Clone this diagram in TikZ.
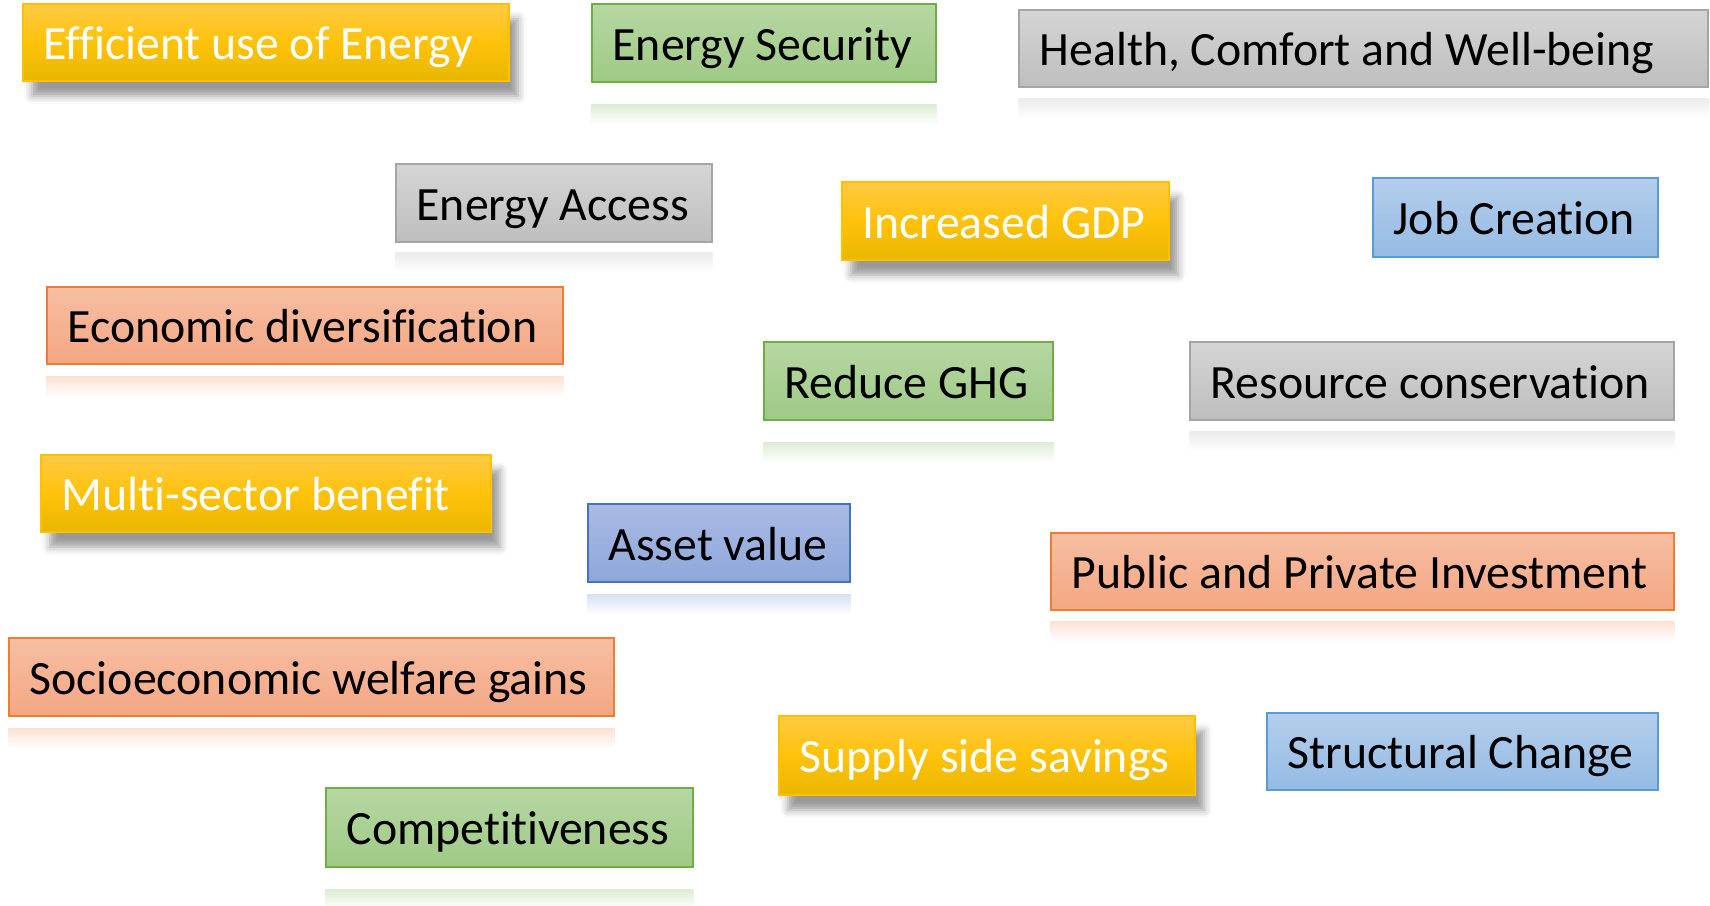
\documentclass[tikz,border=0pt]{standalone}
\usepackage{fontspec}
\setmainfont{Carlito}[Ligatures=NoCommon]
\usetikzlibrary{fit,shadows.blur}
\definecolor{yTop}{HTML}{FFCA45}
\definecolor{yMid}{HTML}{FFC20A}
\definecolor{yBot}{HTML}{E8B700}
\definecolor{yLine}{HTML}{FFC000}
\definecolor{gTop}{HTML}{B6D7A2}
\definecolor{gBot}{HTML}{9FCA86}
\definecolor{gLine}{HTML}{70AD47}
\definecolor{kTop}{HTML}{D5D5D5}
\definecolor{kBot}{HTML}{BEBEBE}
\definecolor{kLine}{HTML}{A5A5A5}
\definecolor{oTop}{HTML}{F7BEA2}
\definecolor{oBot}{HTML}{F4A784}
\definecolor{oLine}{HTML}{ED7D31}
\definecolor{lTop}{HTML}{B4CEEB}
\definecolor{lBot}{HTML}{95BBE4}
\definecolor{lLine}{HTML}{5B9BD5}
\definecolor{bTop}{HTML}{AABAE3}
\definecolor{bBot}{HTML}{8EA7DB}
\definecolor{bLine}{HTML}{4472C4}
\tikzset{
  base/.style={inner sep=0pt, line width=1.2pt},
  yel/.style={base, draw=yLine, top color=yTop, bottom color=yBot, middle color=yMid,
    blur shadow={shadow xshift=9pt, shadow yshift=-15pt, shadow blur radius=8pt, shadow opacity=40}},
  grn/.style={base, draw=gLine, top color=gTop, bottom color=gBot},
  gry/.style={base, draw=kLine, top color=kTop, bottom color=kBot},
  org/.style={base, draw=oLine, top color=oTop, bottom color=oBot},
  lbl/.style={base, draw=lLine, top color=lTop, bottom color=lBot},
  blu/.style={base, draw=bLine, top color=bTop, bottom color=bBot},
  txt/.style={inner sep=0pt, anchor=base west, font=\fontsize{47.8}{58}\selectfont},
  wtxt/.style={txt, text=white},
}
% name, style, x1, y1, x2, y2, text style, text
\newcommand\mkbox[8]{%
  \node[#2, fit={(#3,#4) (#5,#6)}] (#1) {};
  \node[#7] (#1t) at ([xshift=21pt, yshift=-17pt]#1.west) {#8};
}
% reflection: name, gap, colour
\newcommand\mkrefl[3]{%
  \path[top color=#3!45!white, bottom color=white, draw=none]
    ([yshift=-#2]#1.south west) rectangle ([yshift=-#2-20pt]#1.south east);
}
\begin{document}
\begin{tikzpicture}[x=1pt, y=-1pt]
\useasboundingbox (0,0) rectangle (1710,905);
\mkbox{eff}{yel}{23}{4}{509}{81}{wtxt}{Efficient use of Energy}
\mkbox{sec}{grn}{592}{4}{936}{82}{txt}{Energy Security}
\mkbox{hea}{gry}{1019}{10}{1708}{87}{txt}{Health, Comfort and Well-being}
\mkbox{acc}{gry}{396}{164}{712}{242}{txt}{Energy Access}
\mkbox{gdp}{yel}{842}{182}{1169}{260}{wtxt}{Increased GDP}
\mkbox{job}{lbl}{1373}{178}{1658}{257}{txt}{Job Creation}
\mkbox{eco}{org}{47}{287}{563}{364}{txt}{Economic diversification}
\mkbox{ghg}{grn}{764}{342}{1053}{420}{txt}{Reduce GHG}
\mkbox{res}{gry}{1190}{342}{1674}{420}{txt}{Resource conservation}
\mkbox{mul}{yel}{41}{455}{491}{532}{wtxt}{Multi-sector benefit}
\mkbox{ast}{blu}{588}{504}{850}{582}{txt}{Asset value}
\mkbox{pub}{org}{1051}{533}{1674}{610}{txt}{Public and Private Investment}
\mkbox{soc}{org}{9}{638}{614}{716}{txt}{Socioeconomic welfare gains}
\mkbox{sup}{yel}{779}{716}{1195}{795}{wtxt}{Supply side savings}
\mkbox{str}{lbl}{1267}{713}{1658}{790}{txt}{Structural Change}
\mkbox{com}{grn}{326}{788}{693}{867}{txt}{Competitiveness}
\mkrefl{sec}{22pt}{gTop}
\mkrefl{hea}{11pt}{kTop}
\mkrefl{acc}{10pt}{kTop}
\mkrefl{eco}{12pt}{oTop}
\mkrefl{ghg}{22pt}{gTop}
\mkrefl{res}{11pt}{kTop}
\mkrefl{ast}{12pt}{bTop}
\mkrefl{pub}{11pt}{oTop}
\mkrefl{soc}{12pt}{oTop}
\mkrefl{com}{22pt}{gTop}
\end{tikzpicture}
\end{document}
